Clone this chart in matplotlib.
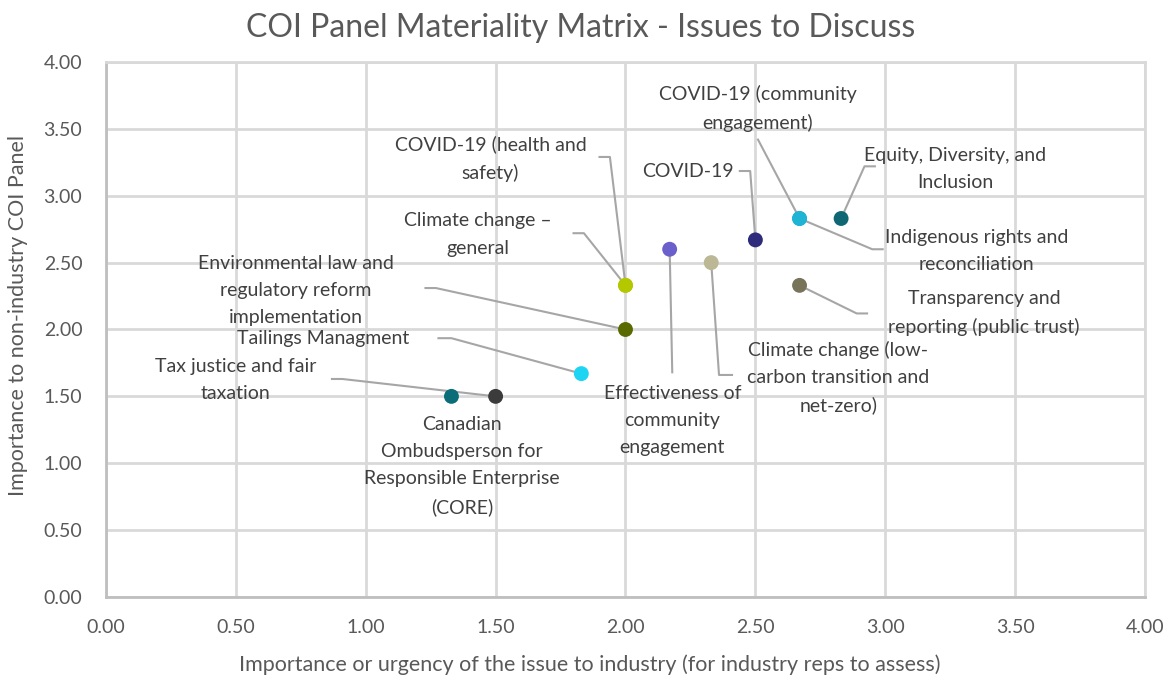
import matplotlib.pyplot as plt

plt.rcParams['font.family'] = ['Lato', 'DejaVu Sans']

# issue names, scores and marker colours
issues = [
    'Equity, Diversity, and\nInclusion',
    'COVID-19 (community\nengagement)',
    'COVID-19',
    'Effectiveness of\ncommunity\nengagement',
    'Climate change (low-\ncarbon transition and\nnet-zero)',
    'Transparency and\nreporting (public trust)',
    'COVID-19 (health and\nsafety)',
    'Climate change \u2013\ngeneral',
    'Environmental law and\nregulatory reform\nimplementation',
    'Tailings Managment',
    'Tax justice and fair\ntaxation',
    'Canadian\nOmbudsperson for\nResponsible Enterprise\n(CORE)',
    'Indigenous rights and\nreconciliation',
]
industry = [2.83, 2.67, 2.50, 2.17, 2.33, 2.67, 2.00, 2.00, 2.00, 1.83, 1.50, 1.33, 2.67]
panel = [2.83, 2.83, 2.67, 2.60, 2.50, 2.33, 2.33, 2.33, 2.00, 1.67, 1.50, 1.50, 2.83]
colors = ['#0e6772', '#1fb4d3', '#2e2a7c', '#6a5fcb', '#bcb794', '#78745a',
          '#b4c800', '#b4c800', '#5b6a00', '#1dd5f3', '#3b3b3b', '#0b6d78', '#1fb4d3']

# label layout: text centre, leader start, elbow (None = no leader)
label_pos = [
    ((3.27, 3.20), (2.96, 3.22), (2.92, 3.22)),
    ((2.51, 3.65), (2.51, 3.42), None),
    ((2.24, 3.18), (2.44, 3.185), (2.48, 3.185)),
    ((2.18, 1.32), (2.18, 1.68), None),
    ((2.82, 1.64), (2.41, 1.66), (2.36, 1.66)),
    ((3.38, 2.12), (2.93, 2.12), (2.89, 2.12)),
    ((1.48, 3.28), (1.90, 3.29), (1.94, 3.29)),
    ((1.43, 2.71), (1.80, 2.72), (1.84, 2.72)),
    ((0.73, 2.29), (1.23, 2.31), (1.27, 2.31)),
    ((0.835, 1.93), (1.28, 1.935), (1.33, 1.935)),
    ((0.50, 1.62), (0.87, 1.63), (0.91, 1.63)),
    ((1.37, 0.98), None, None),
    ((3.35, 2.59), (2.99, 2.60), (2.95, 2.60)),
]

fig = plt.figure(figsize=(11.72, 6.77), dpi=100)
ax = fig.add_axes([0.0904, 0.1182, 0.8866, 0.7902])

for i, name in enumerate(issues):
    (tx, ty), start, elbow = label_pos[i]
    if start is not None:
        xs = [start[0]]
        ys = [start[1]]
        if elbow is not None:
            xs.append(elbow[0])
            ys.append(elbow[1])
        xs.append(industry[i])
        ys.append(panel[i])
        ax.plot(xs, ys, color='#a6a6a6', lw=1.5, zorder=2)
    ax.text(tx, ty, name, ha='center', va='center', fontsize=14,
            color='#404040', linespacing=1.72, zorder=4)

ax.scatter(industry, panel, s=115, c=colors, zorder=3, linewidths=0)

ax.set_xlim(0, 4)
ax.set_ylim(0, 4)
ticks = [0, 0.5, 1, 1.5, 2, 2.5, 3, 3.5, 4]
ax.set_xticks(ticks)
ax.set_yticks(ticks)
ax.set_xticklabels([f'{t:.2f}' for t in ticks])
ax.set_yticklabels([f'{t:.2f}' for t in ticks])
ax.tick_params(length=0, labelsize=14, labelcolor='#595959')
ax.tick_params(axis='x', pad=16)
ax.tick_params(axis='y', pad=17)
ax.grid(True, color='#d9d9d9', lw=2)
ax.set_axisbelow(True)
for s in ax.spines.values():
    s.set_color('#d9d9d9')
    s.set_linewidth(2)
ax.spines['left'].set_color('#bfbfbf')
ax.spines['bottom'].set_color('#bfbfbf')

fig.text(590 / 1172, 1 - 665 / 677,
         'Importance or urgency of the issue to industry (for industry reps to assess)',
         ha='center', va='center', fontsize=15.5, color='#595959')
fig.text(18 / 1172, 1 - 315 / 677, 'Importance to non-industry COI Panel',
         ha='center', va='center', rotation=90, fontsize=15.5, color='#595959')
fig.text(581 / 1172, 1 - 28 / 677, 'COI Panel Materiality Matrix - Issues to Discuss',
         ha='center', va='center', fontsize=23, color='#595959')

fig.savefig('out.png', dpi=100)
